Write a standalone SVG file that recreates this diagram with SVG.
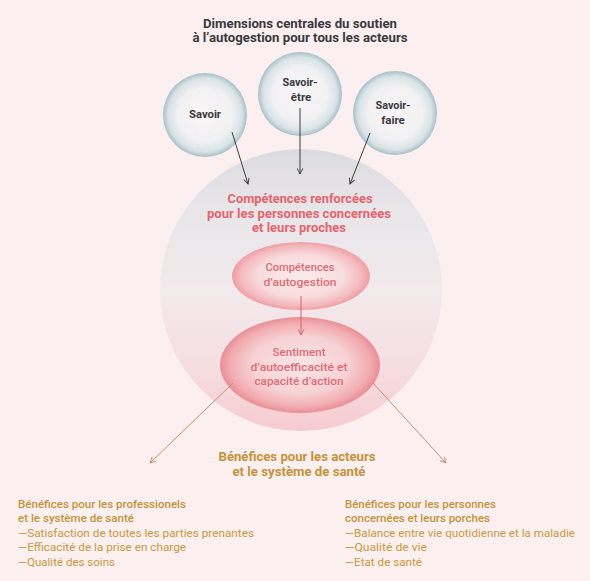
<svg xmlns="http://www.w3.org/2000/svg" width="590" height="581" viewBox="0 0 590 581">
<defs>
<radialGradient id="gSmall" cx="50%" cy="50%" r="50%">
<stop offset="0" stop-color="#fcf8f8"/>
<stop offset="0.65" stop-color="#f4f3f5"/>
<stop offset="0.88" stop-color="#d9e4e7"/>
<stop offset="1" stop-color="#a6c0c8"/>
</radialGradient>
<linearGradient id="gBig" x1="0" y1="0" x2="0" y2="1">
<stop offset="0" stop-color="#dcdbdf"/>
<stop offset="0.22" stop-color="#e8e6e9"/>
<stop offset="0.5" stop-color="#f2eaec"/>
<stop offset="0.8" stop-color="#f6dcdf"/>
<stop offset="1" stop-color="#f6cbcf"/>
</linearGradient>
<radialGradient id="gE1" cx="50%" cy="50%" r="50%">
<stop offset="0" stop-color="#fbeaea"/>
<stop offset="0.62" stop-color="#f8dcdd"/>
<stop offset="0.88" stop-color="#f3b9bd"/>
<stop offset="1" stop-color="#ee9ea4"/>
</radialGradient>
<radialGradient id="gE2" cx="50%" cy="50%" r="50%">
<stop offset="0" stop-color="#fae6e6"/>
<stop offset="0.6" stop-color="#f7d2d4"/>
<stop offset="0.88" stop-color="#f1abb0"/>
<stop offset="1" stop-color="#e98e96"/>
</radialGradient>
<filter id="grain" x="-10%" y="-10%" width="120%" height="120%">
<feTurbulence type="fractalNoise" baseFrequency="0.9" numOctaves="2" seed="3" result="n"/>
<feColorMatrix in="n" type="matrix" values="0 0 0 0 0.5  0 0 0 0 0.55  0 0 0 0 0.6  0 0 0 0.18 -0.04" result="nc"/>
<feComposite in="nc" in2="SourceGraphic" operator="in" result="clipped"/>
<feMerge><feMergeNode in="SourceGraphic"/><feMergeNode in="clipped"/></feMerge>
</filter>
<marker id="aDark" viewBox="0 0 10 10" refX="9" refY="5" markerWidth="7" markerHeight="7" orient="auto" markerUnits="userSpaceOnUse">
<path d="M1,1 L9,5 L1,9" fill="none" stroke="#3e3e44" stroke-width="1.4"/>
</marker>
<marker id="aRed" viewBox="0 0 10 10" refX="9" refY="5" markerWidth="7" markerHeight="7" orient="auto" markerUnits="userSpaceOnUse">
<path d="M1,1 L9,5 L1,9" fill="none" stroke="#d5606a" stroke-width="1.4"/>
</marker>
<marker id="aTan" viewBox="0 0 10 10" refX="9" refY="5" markerWidth="7" markerHeight="7" orient="auto" markerUnits="userSpaceOnUse">
<path d="M1,1 L9,5 L1,9" fill="none" stroke="#c98c6c" stroke-width="1.4"/>
</marker>
</defs>
<style>
text{font-family:Roboto,"Liberation Sans",sans-serif;text-anchor:middle;}
.t{font-size:13px;font-weight:700;fill:#3a3a3e;}
.s{font-size:11.5px;font-weight:700;fill:#3a3a40;}
.r{font-size:13px;font-weight:700;fill:#e5636d;}
.ri{font-size:11px;font-weight:500;fill:#df6b74;}
.g{font-size:13px;font-weight:700;fill:#c4923a;}
.gl{font-size:11.5px;font-weight:500;fill:#c4923a;text-anchor:start;}
.gi{font-size:11.5px;font-weight:400;fill:#c99840;text-anchor:start;}
.c-dark{stroke:#3e3e44;stroke-width:1;fill:none;marker-end:url(#aDark);}
.c-red{stroke:#d5606a;stroke-width:1;fill:none;marker-end:url(#aRed);}
.c-tan{stroke:#c98c6c;stroke-width:1;fill:none;marker-end:url(#aTan);}
</style>
<rect width="590" height="581" fill="#fcefef"/>

<g id="title">
<text class="t" x="300" y="28" textLength="194" lengthAdjust="spacingAndGlyphs">Dimensions centrales du soutien</text>
<text class="t" x="300" y="42" textLength="215" lengthAdjust="spacingAndGlyphs">à l’autogestion pour tous les acteurs</text>
</g>

<g id="competences-renforcees">
<circle cx="301" cy="290" r="141" fill="url(#gBig)"/>
<text class="r" x="300" y="203" textLength="145" lengthAdjust="spacingAndGlyphs">Compétences renforcées</text>
<text class="r" x="299" y="218" textLength="184" lengthAdjust="spacingAndGlyphs">pour les personnes concernées</text>
<text class="r" x="299" y="232" textLength="94" lengthAdjust="spacingAndGlyphs">et leurs proches</text>
</g>

<g id="savoir">
<circle cx="205" cy="115" r="42" fill="url(#gSmall)" filter="url(#grain)"/>
<text class="s" x="205" y="118" textLength="32" lengthAdjust="spacingAndGlyphs">Savoir</text>
</g>
<g id="savoir-etre">
<circle cx="300" cy="94" r="42" fill="url(#gSmall)" filter="url(#grain)"/>
<text class="s" x="300" y="86" textLength="35" lengthAdjust="spacingAndGlyphs">Savoir-</text>
<text class="s" x="301" y="101">être</text>
</g>
<g id="savoir-faire">
<circle cx="395" cy="113" r="42" fill="url(#gSmall)" filter="url(#grain)"/>
<text class="s" x="393" y="109" textLength="35" lengthAdjust="spacingAndGlyphs">Savoir-</text>
<text class="s" x="393" y="124">faire</text>
</g>

<g id="competences-autogestion">
<ellipse cx="301" cy="276" rx="69" ry="34" fill="url(#gE1)"/>
<text class="ri" x="300" y="271" textLength="69" lengthAdjust="spacingAndGlyphs">Compétences</text>
<text class="ri" x="300" y="286" textLength="73" lengthAdjust="spacingAndGlyphs">d’autogestion</text>
</g>

<g id="sentiment">
<ellipse cx="300" cy="365" rx="80" ry="48" fill="url(#gE2)"/>
<text class="ri" x="299" y="356" textLength="53" lengthAdjust="spacingAndGlyphs">Sentiment</text>
<text class="ri" x="299" y="371" textLength="97" lengthAdjust="spacingAndGlyphs">d’autoefficacité et</text>
<text class="ri" x="299" y="385" textLength="89" lengthAdjust="spacingAndGlyphs">capacité d’action</text>
</g>

<g id="connectors">
<line class="c-dark" x1="232" y1="132" x2="248" y2="184"/>
<line class="c-dark" x1="300" y1="108" x2="300" y2="174"/>
<line class="c-dark" x1="370" y1="133" x2="350" y2="184"/>
<line class="c-red" x1="301" y1="296" x2="301" y2="335"/>
<line class="c-tan" x1="233" y1="383" x2="150" y2="463"/>
<line class="c-tan" x1="373" y1="383" x2="446" y2="463"/>
</g>

<g id="benefices">
<text class="g" x="297" y="461" textLength="157" lengthAdjust="spacingAndGlyphs">Bénéfices pour les acteurs</text>
<text class="g" x="299" y="476" textLength="133" lengthAdjust="spacingAndGlyphs">et le système de santé</text>
</g>

<g id="benefices-professionnels">
<text class="gl" x="18" y="508" textLength="168" lengthAdjust="spacingAndGlyphs">Bénéfices pour les professionels</text>
<text class="gl" x="18" y="522" textLength="116" lengthAdjust="spacingAndGlyphs">et le système de santé</text>
<text class="gi" x="18" y="537" textLength="236" lengthAdjust="spacingAndGlyphs">—Satisfaction de toutes les parties prenantes</text>
<text class="gi" x="18" y="551" textLength="168" lengthAdjust="spacingAndGlyphs">—Efficacité de la prise en charge</text>
<text class="gi" x="18" y="566" textLength="97" lengthAdjust="spacingAndGlyphs">—Qualité des soins</text>
</g>

<g id="benefices-personnes">
<text class="gl" x="345" y="508" textLength="151" lengthAdjust="spacingAndGlyphs">Bénéfices pour les personnes</text>
<text class="gl" x="345" y="522" textLength="145" lengthAdjust="spacingAndGlyphs">concernées et leurs porches</text>
<text class="gi" x="345" y="537" textLength="230" lengthAdjust="spacingAndGlyphs">—Balance entre vie quotidienne et la maladie</text>
<text class="gi" x="345" y="551" textLength="82" lengthAdjust="spacingAndGlyphs">—Qualité de vie</text>
<text class="gi" x="345" y="566" textLength="77" lengthAdjust="spacingAndGlyphs">—Etat de santé</text>
</g>
</svg>
